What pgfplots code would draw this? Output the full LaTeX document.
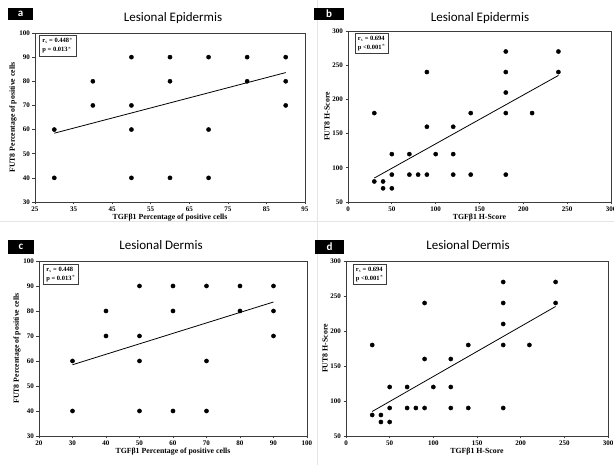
\documentclass[border=0pt]{standalone}
\usepackage{pgfplots}
\pgfplotsset{compat=1.18}
\usepackage{fontspec}
\setmainfont{Liberation Serif}
\newfontfamily\titlefont{Carlito}
\definecolor{axgray}{RGB}{60,60,60}
\tikzset{
  stat/.style={draw=axgray, line width=0.8pt, fill=white, align=left, inner sep=3pt,
    font=\bfseries\fontsize{6.5}{9}\selectfont, anchor=north west},
}
\pgfplotsset{
  panel/.style={
    scale only axis,
    anchor=south west,
    axis line style={axgray, line width=0.9pt},
    tick style={axgray, line width=0.7pt},
    tick align=outside,
    major tick length=2.5pt,
    xtick pos=bottom, ytick pos=left,
    /pgf/number format/assume math mode=true,
    tick label style={font=\bfseries\fontsize{7}{8}\selectfont},
    label style={font=\bfseries\fontsize{7.8}{9}\selectfont},
    xticklabel style={yshift=1pt},
    yticklabel style={xshift=1pt},
    xlabel style={yshift=4.5pt},
    ylabel style={yshift=-4pt},
    clip=false,
  },
  pts/.style={only marks, mark=*, mark size=2.1pt, black},
  fit/.style={black, line width=0.8pt, mark=none},
}
\begin{document}
\begin{tikzpicture}
\useasboundingbox (0pt,0pt) rectangle (614pt,465pt);
% faint separators
\draw[gray!20, line width=0.5pt] (317pt,0pt) -- (317pt,465pt);
\draw[gray!20, line width=0.5pt] (0pt,244pt) -- (614pt,244pt);

% ---------------- panel a ----------------
\begin{axis}[panel, at={(35pt,263pt)}, width=270pt, height=169pt,
  xmin=25, xmax=95, ymin=30, ymax=100,
  xtick={25,35,...,95}, ytick={30,40,...,100},
  xlabel={TGFβ1 Percentage of positive cells},
  ylabel={FUT8 Percentage of positive cells}]
\addplot[pts] coordinates {(30,60) (30,40) (40,80) (40,70) (50,90) (50,70) (50,60) (50,40)
 (60,90) (60,80) (60,40) (70,90) (70,60) (70,40) (80,90) (80,80) (90,90) (90,80) (90,70)};
\addplot[fit] coordinates {(30,58.5) (90,83.6)};
\node[stat] at (rel axis cs:0.015,0.99) {r$_\mathrm{s}$ = 0.448$^*$\\p = 0.013$^*$};
\end{axis}

% ---------------- panel b ----------------
\begin{axis}[panel, at={(348pt,263pt)}, width=263pt, height=171pt,
  xmin=0, xmax=300, ymin=50, ymax=300,
  xtick={0,50,...,300}, ytick={50,100,...,300},
  xlabel={TGFβ1 H-Score},
  ylabel={FUT8 H-Score}]
\addplot[pts] coordinates {(30,180) (30,80) (40,80) (40,70) (50,120) (50,90) (50,70)
 (70,120) (70,90) (80,90) (90,240) (90,160) (90,90) (100,120) (120,160) (120,120) (120,90)
 (140,180) (140,90) (180,270) (180,240) (180,210) (180,180) (180,90) (210,180) (240,270) (240,240)};
\addplot[fit] coordinates {(30,85) (240,235)};
\node[stat] at (rel axis cs:0.025,0.99) {r$_\mathrm{s}$ = 0.694\\p {<}0.001$^*$};
\end{axis}

% ---------------- panel c ----------------
\begin{axis}[panel, at={(39pt,29pt)}, width=268pt, height=175pt,
  xmin=20, xmax=100, ymin=30, ymax=100,
  xtick={20,30,...,100}, ytick={30,40,...,100},
  xlabel={TGFβ1 Percentage of positive cells},
  ylabel={FUT8 Percentage of positive cells}]
\addplot[pts] coordinates {(30,60) (30,40) (40,80) (40,70) (50,90) (50,70) (50,60) (50,40)
 (60,90) (60,80) (60,40) (70,90) (70,60) (70,40) (80,90) (80,80) (90,90) (90,80) (90,70)};
\addplot[fit] coordinates {(30,58.5) (90,83.6)};
\node[stat] at (rel axis cs:0.015,0.985) {r$_\mathrm{s}$ = 0.448\\p = 0.013$^*$};
\end{axis}

% ---------------- panel d ----------------
\begin{axis}[panel, at={(346pt,29pt)}, width=262pt, height=175pt,
  xmin=0, xmax=300, ymin=50, ymax=300,
  xtick={0,50,...,300}, ytick={50,100,...,300},
  xlabel={TGFβ1 H-Score},
  ylabel={FUT8 H-Score}]
\addplot[pts] coordinates {(30,180) (30,80) (40,80) (40,70) (50,120) (50,90) (50,70)
 (70,120) (70,90) (80,90) (90,240) (90,160) (90,90) (100,120) (120,160) (120,120) (120,90)
 (140,180) (140,90) (180,270) (180,240) (180,210) (180,180) (180,90) (210,180) (240,270) (240,240)};
\addplot[fit] coordinates {(30,85) (240,235)};
\node[stat] at (rel axis cs:0.025,0.985) {r$_\mathrm{s}$ = 0.694\\p {<}0.001$^*$};
\end{axis}

% panel letters and titles
\fill[black] (8pt,445pt) rectangle (33pt,457pt);
\node[white, font=\titlefont\bfseries\fontsize{11}{11}\selectfont] at (20.5pt,451pt) {a};
\fill[black] (314pt,445pt) rectangle (344pt,457pt);
\node[white, font=\titlefont\bfseries\fontsize{11}{11}\selectfont] at (329pt,451pt) {b};
\fill[black] (8pt,211pt) rectangle (34pt,225pt);
\node[white, font=\titlefont\bfseries\fontsize{11}{11}\selectfont] at (21pt,218pt) {c};
\fill[black] (315pt,211pt) rectangle (344pt,225pt);
\node[white, font=\titlefont\bfseries\fontsize{11}{11}\selectfont] at (329.5pt,218pt) {d};
\node[font=\titlefont\fontsize{13}{14}\selectfont] at (173pt,447pt) {Lesional Epidermis};
\node[font=\titlefont\fontsize{13}{14}\selectfont] at (480pt,447pt) {Lesional Epidermis};
\node[font=\titlefont\fontsize{13}{14}\selectfont] at (161pt,220pt) {Lesional Dermis};
\node[font=\titlefont\fontsize{13}{14}\selectfont] at (468pt,220pt) {Lesional Dermis};
\end{tikzpicture}
\end{document}
